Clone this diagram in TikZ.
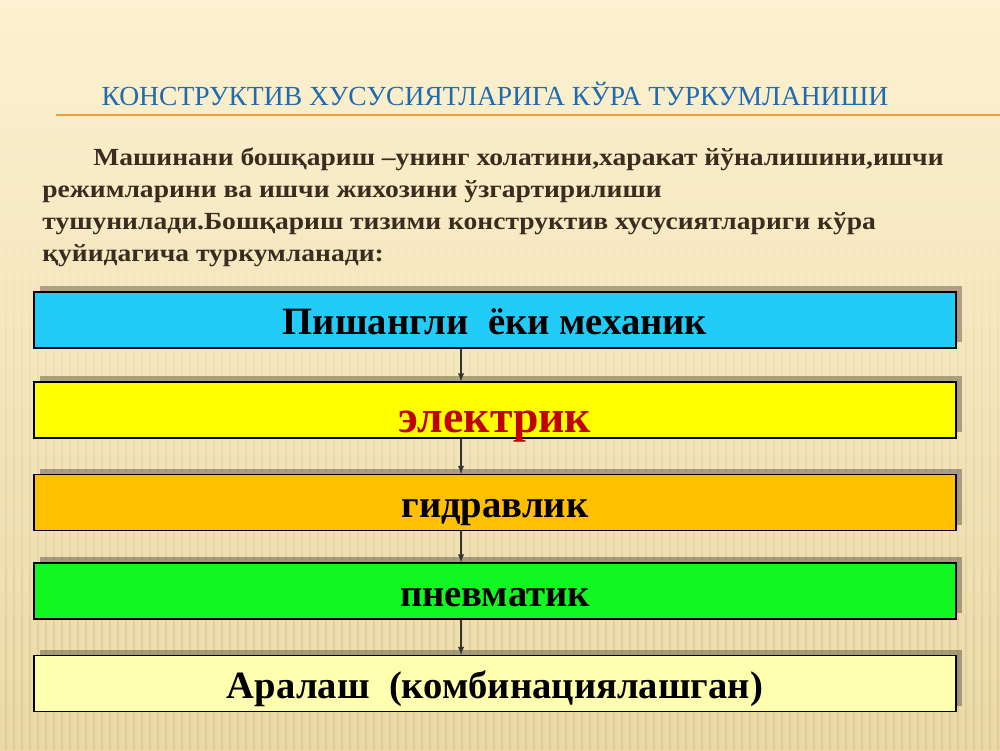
\documentclass[tikz,border=0pt]{standalone}
\usepackage{fontspec}
\setmainfont{Liberation Serif}
\newfontfamily\bodyfont[FakeStretch=1.12]{Liberation Serif}
\usetikzlibrary{positioning,shadows,arrows,fadings}

\definecolor{bgtop}{HTML}{FCF1D0}
\definecolor{bgbot}{HTML}{EBDAA8}
\definecolor{stripe}{HTML}{B8955A}
\definecolor{titleblue}{HTML}{1E6BB2}
\definecolor{rulecol}{HTML}{F0A030}
\definecolor{textbrown}{HTML}{3A2C1E}
\definecolor{kblue}{HTML}{22CCF8}
\definecolor{kyellow}{HTML}{FFFF00}
\definecolor{korange}{HTML}{FFC000}
\definecolor{kgreen}{HTML}{10F820}
\definecolor{kpale}{HTML}{FFFFB0}
\definecolor{kred}{HTML}{C00000}

\tikzset{
    kbox/.style={draw, line width=0.6pt, minimum width=18.44cm, minimum height=1.12cm,
        inner sep=0pt, text height=0.6cm, text depth=0cm, font=\bfseries\fontsize{22}{26}\selectfont,
        drop shadow={shadow xshift=0.12cm, shadow yshift=0.12cm, fill=black, opacity=0.3}},
    karrow/.style={-latex, line width=0.6pt, draw=black!80}
}

\begin{document}
\begin{tikzpicture}
            \useasboundingbox (0,0) rectangle (20,15);
            \shade[top color=bgtop, bottom color=bgbot] (0,0) rectangle (20,15);
            % faint vertical stripes of the slide background
            \fill[stripe, opacity=0.22, path fading=north]
                \foreach \x in {0.1,0.26,...,20} { (\x,0) rectangle ++(0.035,11) };

            \node[anchor=base, text=titleblue, font=\fontsize{15.7}{18}\selectfont] (T) at (9.9,12.88)
                {КОНСТРУКТИВ ХУСУСИЯТЛАРИГА КЎРА ТУРКУМЛАНИШИ};
            \draw[rulecol, line width=1.2pt] (1.12,12.7) -- (20,12.7);

            \node[anchor=north west, inner sep=0pt, align=left, text=textbrown,
                font=\bodyfont\bfseries\fontsize{14}{18.3}\selectfont] (M) at (0.84,12.05)
                {\hspace*{1.02cm}Машинани бошқариш –унинг холатини,харакат йўналишини,ишчи\\
                 режимларини ва ишчи жихозини ўзгартирилиши\\
                 тушунилади.Бошқариш тизими конструктив хусусиятлариги кўра\\
                 қуйидагича туркумланади:};

            \node[kbox, fill=kblue] (K1) at (9.9,8.6) {Пишангли\ \ ёки механик};
            \node[kbox, fill=kyellow, text=kred, text height=0.88cm,
                font=\bfseries\fontsize{26}{30}\selectfont] (K2) at (9.9,6.8) {электрик};
            \node[kbox, fill=korange] (K3) at (9.9,4.95) {гидравлик};
            \node[kbox, fill=kgreen] (K4) at (9.9,3.18) {пневматик};
            \node[kbox, fill=kpale] (K5) at (9.9,1.33) {Аралаш\ \ (комбинациялашган)};

            \draw[karrow] ([xshift=-0.68cm]K1.south) -- ([xshift=-0.68cm]K2.north);
            \draw[karrow] ([xshift=-0.68cm]K2.south) -- ([xshift=-0.68cm]K3.north);
            \draw[karrow] ([xshift=-0.68cm]K3.south) -- ([xshift=-0.68cm]K4.north);
            \draw[karrow] ([xshift=-0.68cm]K4.south) -- ([xshift=-0.68cm]K5.north);
        \end{tikzpicture}
\end{document}
